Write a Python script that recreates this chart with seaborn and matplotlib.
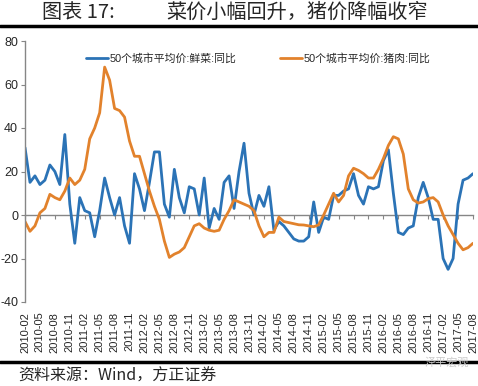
import matplotlib
matplotlib.use('Agg')
import matplotlib.pyplot as plt
from matplotlib.lines import Line2D
import seaborn as sns
import pandas as pd

# monthly YoY (%), 2010-02 .. 2017-08
months = pd.date_range('2010-02-01', '2017-08-01', freq='MS').strftime('%Y-%m').tolist()

veg = [31, 15, 18, 14, 16, 23, 20, 14, 37, 5,
       -13, 8, 2, 1, -10, 2, 17, 8, 0, 8,
       -5, -13, 19, 12, 2, 15, 29, 29, 5, -1,
       21, 8, 1, 13, 12, 0, 17, -6, 3, -2,
       15, 18, 3, 20, 33, 10, 0, 9, 4, 13,
       -7, -3, -5, -8, -11, -12, -12, -10, 6, -8,
       -1, -2, 9, 9, 11, 12, 19, 9, 5, 13,
       12, 13, 25, 30, 10, -8, -9, -6, -5, 8,
       15, 8, -2, -2, -20, -25, -20, 5, 16, 17,
       19]

pork = [-3, -7.5, -5, 1, 3, 9.5, 8, 7, 11, 17,
        14, 16, 21, 35, 40, 47, 68, 62, 49, 48,
        45, 34, 27, 27, 19, 11, 4, -2, -12, -19.5,
        -18, -17, -15, -10, -5, -4, -6, -7, -7.5, -7,
        -2, 2, 7, 6, 5, 4, 2, -5, -10, -8,
        -8, -1, -3, -3.5, -4, -4.5, -4.6, -5, -5.4, -4.5,
        0, 5, 10, 6, 9, 18, 21.5, 20.5, 19, 17,
        17, 21, 26, 32, 36, 35, 28, 12, 7, 5.5,
        6, 7.5, 8, 6, 0, -5, -9, -13, -16, -15,
        -13]

veg_label = '50个城市平均价:鲜菜:同比'
pork_label = '50个城市平均价:猪肉:同比'

df = pd.DataFrame({'idx': range(len(months)), 'month': months, 'veg': veg, 'pork': pork})

sns.set_style('white')
plt.rcParams['font.family'] = ['Liberation Sans', 'Noto Sans CJK SC', 'DejaVu Sans']
plt.rcParams['axes.unicode_minus'] = False

fig = plt.figure(figsize=(4.78, 3.86), dpi=100)
ax = fig.add_axes([25/478, 84/386, 448/478, 261/386])

sns.lineplot(data=df, x='idx', y='veg', ax=ax, color='#2b73b6', lw=2, label=veg_label,
             solid_joinstyle='round', solid_capstyle='round')
sns.lineplot(data=df, x='idx', y='pork', ax=ax, color='#e2822c', lw=2, label=pork_label,
             solid_joinstyle='round', solid_capstyle='round')

ax.set_xlim(0, len(months) - 1)
ax.set_ylim(-40, 80)
ax.set_yticks(range(-40, 81, 20))
ax.set_xlabel('')
ax.set_ylabel('')

tick_pos = list(range(0, len(months), 3))
ax.set_xticks(tick_pos)
ax.set_xticklabels([months[i] for i in tick_pos], rotation=90, fontsize=8)
ax.tick_params(axis='x', length=0, pad=7)
ax.tick_params(axis='y', labelsize=9, length=3, direction='out', color='#868686', left=True, pad=2)

for s in ['top', 'right', 'bottom']:
    ax.spines[s].set_visible(False)
ax.spines['left'].set_color('#868686')
ax.spines['left'].set_linewidth(1)

# category axis crosses at zero
zero_ax = ax.secondary_xaxis(1/3)
zero_ax.set_xticks(tick_pos)
zero_ax.set_xticklabels([])
zero_ax.tick_params(length=3, direction='out', color='#868686')
zero_ax.spines['bottom'].set_color('#868686')
zero_ax.spines['bottom'].set_linewidth(1)

ax.legend(loc='upper center', bbox_to_anchor=(0.52, 0.99), ncol=2, frameon=False,
          fontsize=7.8, handlelength=2.1, handletextpad=0.1, columnspacing=4)

# title, rules and source
fig.text(42/478, 1 - 12/386, '图表 17:', fontsize=14.5, va='center',
         family=['Noto Sans CJK SC', 'DejaVu Sans'])
fig.text(166/478, 1 - 12/386, '菜价小幅回升，猪价降幅收窄', fontsize=14.5, va='center',
         family=['Noto Sans CJK SC', 'DejaVu Sans'])
fig.add_artist(Line2D([0, 1], [1 - 26/386] * 2, color='black', lw=2.5, transform=fig.transFigure))
fig.add_artist(Line2D([0, 1], [1 - 362/386] * 2, color='black', lw=2.5, transform=fig.transFigure))
fig.text(18/478, 1 - 376/386, '资料来源：Wind，方正证券', fontsize=11.5, va='center', style='italic',
         family=['Noto Sans CJK SC', 'DejaVu Sans'])
fig.text(425/478, 1 - 362/386, '泽平宏观', fontsize=8, va='center', color='#cccccc',
         family=['Noto Sans CJK SC', 'DejaVu Sans'])

fig.savefig('out.png', dpi=100)
